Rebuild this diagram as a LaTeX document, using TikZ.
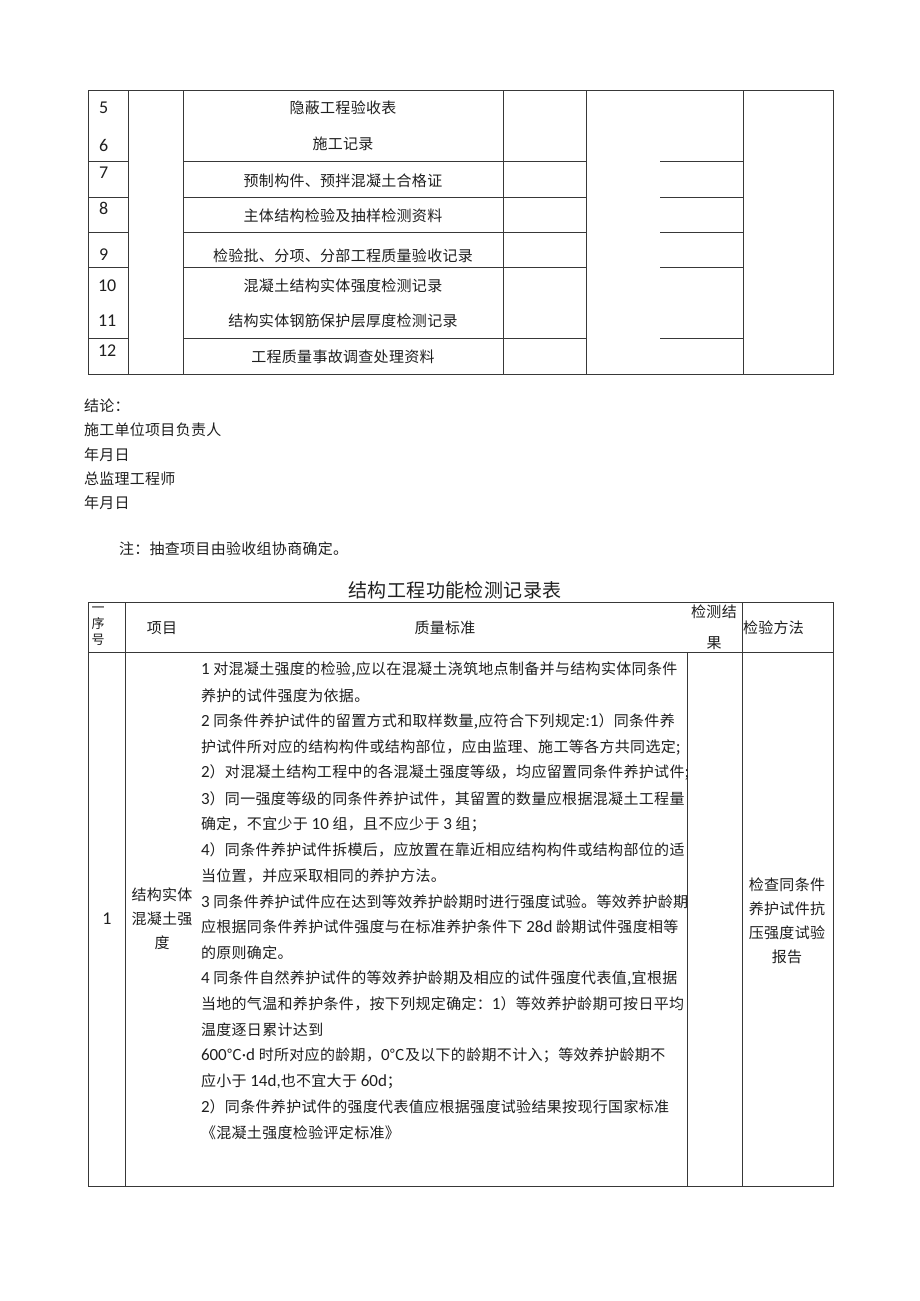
\documentclass[tikz,border=0pt]{standalone}
\usepackage{fontspec}
\setmainfont{Noto Sans CJK SC}[LetterSpace=2]
\newfontfamily\bodyfont{Noto Sans CJK SC}[LetterSpace=2.2]
\newfontfamily\lat{Carlito}
\newcommand{\dg}[1]{{\lat\fontsize{17}{15}\selectfont #1}}
\begin{document}
\begin{tikzpicture}[x=1pt,y=-1pt,
  every node/.style={inner sep=0pt,outer sep=0pt,text=black!88,font=\fontsize{15}{15}\selectfont},
  grid/.style={draw=black!78,line width=0.8pt},
  num/.style={anchor=west,font=\lat\fontsize{18}{18}\selectfont},
  item/.style={anchor=center},
  txt/.style={anchor=west},
  body/.style={anchor=west,font=\bodyfont\fontsize{15}{15}\selectfont},
  stack/.style={align=center,font=\fontsize{15}{24}\selectfont}]
\useasboundingbox (0,0) rectangle (920,1301);
\fill[white] (0,0) rectangle (920,1301);
% ---------- top table ----------
\draw[grid] (88,90) rectangle (833,374);
\foreach \x in {128,183,503,586,743} \draw[grid] (\x,90) -- (\x,374);
\foreach \y in {161,197,232,267,338} {
  \draw[grid] (88,\y) -- (128,\y);
  \draw[grid] (183,\y) -- (586,\y);
  \draw[grid] (660,\y) -- (743,\y);
}
\node[num] (n5)  at (99,108) {5};
\node[num] (n6)  at (99,145) {6};
\node[num] (n7)  at (99,173) {7};
\node[num] (n8)  at (99,208) {8};
\node[num] (n9)  at (99,255) {9};
\node[num] (n10) at (98,286) {10};
\node[num] (n11) at (98,321) {11};
\node[num] (n12) at (98,351) {12};
\node[item] (i5)  at (343,108) {隐蔽工程验收表};
\node[item] (i6)  at (343,144) {施工记录};
\node[item] (i7)  at (343,181) {预制构件、预拌混凝土合格证};
\node[item] (i8)  at (343,216) {主体结构检验及抽样检测资料};
\node[item] (i9)  at (343,256) {检验批、分项、分部工程质量验收记录};
\node[item] (i10) at (343,286) {混凝土结构实体强度检测记录};
\node[item] (i11) at (343,321) {结构实体钢筋保护层厚度检测记录};
\node[item] (i12) at (343,357) {工程质量事故调查处理资料};
% ---------- signatures ----------
\node[txt] (t1) at (84,406) {结论：};
\node[txt] (t2) at (84,430) {施工单位项目负责人};
\node[txt] (t3) at (84,455) {年月日};
\node[txt] (t4) at (84,479) {总监理工程师};
\node[txt] (t5) at (84,503) {年月日};
\node[txt] (t6) at (119,549) {注：抽查项目由验收组协商确定。};
% ---------- title ----------
\node[font=\fontsize{19}{19}\selectfont] (title) at (455,590) {结构工程功能检测记录表};
% ---------- second table ----------
\draw[grid] (88,602) rectangle (833,1186);
\draw[grid] (88,652) -- (833,652);
\draw[grid] (125,602) -- (125,1186);
\draw[grid] (742,602) -- (742,1186);
\draw[grid] (687,652) -- (687,1186);
\node[align=center,font=\fontsize{13}{16}\selectfont] (hseq) at (98,626) {一\\序\\号};
\node (hitem) at (162,628) {项目};
\node (hstd) at (445,628) {质量标准};
\node (hres1) at (714,612) {检测结};
\node (hres2) at (714,643) {果};
\node[anchor=west] (hmeth) at (743,628) {检验方法};
\node[font=\lat\fontsize{18}{18}\selectfont] (r1) at (107,919) {1};
\node[stack] (ritem) at (162,919) {结构实体\\混凝土强\\度};
\node[stack] (rmeth) at (787,921) {检查同条件\\养护试件抗\\压强度试验\\报告};
\foreach \t [count=\i from 0] in {
  {\dg{1} 对混凝土强度的检验,应以在混凝土浇筑地点制备并与结构实体同条件},
  {养护的试件强度为依据。},
  {\dg{2} 同条件养护试件的留置方式和取样数量,应符合下列规定:\dg{1}）同条件养},
  {护试件所对应的结构构件或结构部位，应由监理、施工等各方共同选定;},
  {\dg{2}）对混凝土结构工程中的各混凝土强度等级，均应留置同条件养护试件;},
  {\dg{3}）同一强度等级的同条件养护试件，其留置的数量应根据混凝土工程量},
  {确定，不宜少于 \dg{10} 组，且不应少于 \dg{3} 组；},
  {\dg{4}）同条件养护试件拆模后，应放置在靠近相应结构构件或结构部位的适},
  {当位置，并应采取相同的养护方法。},
  {\dg{3} 同条件养护试件应在达到等效养护龄期时进行强度试验。等效养护龄期},
  {应根据同条件养护试件强度与在标准养护条件下 \dg{28d} 龄期试件强度相等},
  {的原则确定。},
  {\dg{4} 同条件自然养护试件的等效养护龄期及相应的试件强度代表值,宜根据},
  {当地的气温和养护条件，按下列规定确定：\dg{1}）等效养护龄期可按日平均},
  {温度逐日累计达到},
  {\dg{600}℃\dg{·d} 时所对应的龄期，\dg{0}℃及以下的龄期不计入；等效养护龄期不},
  {应小于 \dg{14d,}也不宜大于 \dg{60d}；},
  {\dg{2}）同条件养护试件的强度代表值应根据强度试验结果按现行国家标准},
  {《混凝土强度检验评定标准》}}
  \node[body] (b\i) at (201,{670+25.72*\i}) {\t};
\end{tikzpicture}
\end{document}
